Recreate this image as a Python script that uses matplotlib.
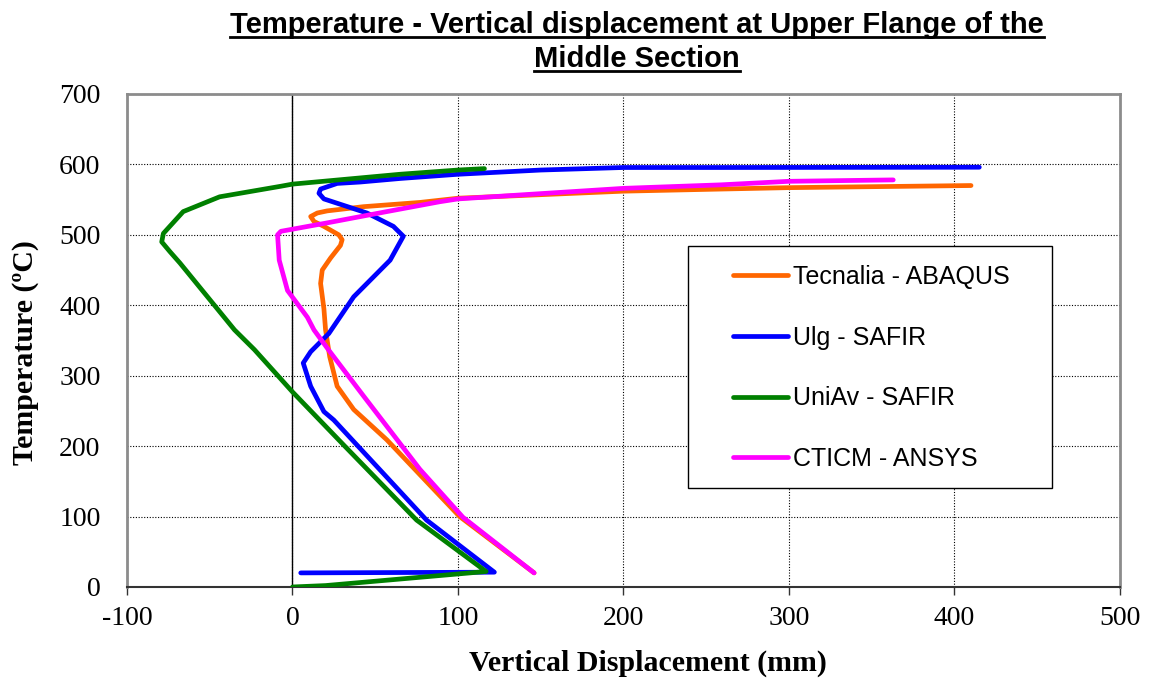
import matplotlib.pyplot as plt
from matplotlib.lines import Line2D
from matplotlib.patches import Rectangle

plt.rcParams['axes.unicode_minus'] = False

# Vertical displacement (mm) vs temperature (ºC) for each model
tecnalia_disp = [146, 101, 57, 37, 27, 22.5, 20, 19, 17, 18, 23, 29, 30, 28, 19, 13, 11, 15, 21, 43, 77, 100, 200, 259, 300, 410]
tecnalia_temp = [20, 100, 209, 252, 285, 327, 365, 395, 431, 450, 467, 485, 493, 500, 512, 519, 526, 531, 534, 540, 546, 552, 562, 565, 567, 570]

ulg_disp = [5, 122, 81, 25, 19, 11, 6.5, 11, 22, 37, 59, 67, 61, 45, 19, 16, 17, 27, 41, 65, 100, 150, 200, 259, 415]
ulg_temp = [20, 21, 95, 237, 249, 285, 318, 334, 360, 412, 464, 498, 512, 531, 551, 559, 565, 573, 575, 580, 586, 592, 595.6, 595.6, 596]

uniav_disp = [0, 20, 117, 75, 32, 0, -23, -35, -68, -74, -79, -78, -66, -44, -7, 0, 65, 100, 116]
uniav_temp = [0, 2, 22, 95, 199, 277, 337, 365, 460, 476, 490, 502, 533, 554, 569, 572, 586, 592, 594]

cticm_disp = [146, 103, 77, 43, 22, 13, 9, -3, -8, -9, -7, 21, 57, 89, 100, 200, 259, 300, 363]
cticm_temp = [20, 99, 167, 271, 336, 365, 383, 421, 464, 500, 505, 517, 533, 547, 551, 566, 571, 576, 578]

series = [
    ('Tecnalia - ABAQUS', tecnalia_disp, tecnalia_temp, '#FF6600'),
    ('Ulg - SAFIR', ulg_disp, ulg_temp, '#0000FF'),
    ('UniAv - SAFIR', uniav_disp, uniav_temp, '#008000'),
    ('CTICM - ANSYS', cticm_disp, cticm_temp, '#FF00FF'),
]

x_ticks = [-100, 0, 100, 200, 300, 400, 500]
y_ticks = [0, 100, 200, 300, 400, 500, 600, 700]

fig = plt.figure(figsize=(11.5, 6.8), dpi=100)
ax = fig.add_axes([0.1104, 0.1368, 0.8635, 0.725])

for label, d, t, c in series:
    ax.plot(d, t, color=c, lw=3.4, label=label, solid_capstyle='round',
            solid_joinstyle='round', zorder=3)

ax.set_xlim(-100, 500)
ax.set_ylim(0, 700)
ax.set_xticks(x_ticks)
ax.set_yticks(y_ticks)
ax.grid(True, color='black', linestyle=(0, (1, 1.5)), linewidth=0.8, zorder=1)
ax.axvline(0, color='black', lw=1, zorder=2)

serif = 'Liberation Serif'
ax.tick_params(axis='x', direction='out', length=6, width=1, pad=8,
               labelsize=20, color='#333333')
ax.tick_params(axis='y', length=0, pad=19, labelsize=20)
for lbl in ax.get_xticklabels() + ax.get_yticklabels():
    lbl.set_fontfamily(serif)

for side in ['left', 'right', 'top']:
    ax.spines[side].set_color('#8c8c8c')
    ax.spines[side].set_linewidth(2)
ax.spines['bottom'].set_color('#333333')
ax.spines['bottom'].set_linewidth(1.5)

ax.set_xlabel('Vertical Displacement (mm)', fontfamily=serif, fontweight='bold', fontsize=21.5)
ax.set_ylabel('Temperature (ºC)', fontfamily=serif, fontweight='bold', fontsize=21.5)
ax.xaxis.set_label_coords(0.525, -0.128)
ax.yaxis.set_label_coords(-0.089, 0.475)

# legend box
ax.add_patch(Rectangle((0.565, 0.201), 0.367, 0.491, transform=ax.transAxes,
                       facecolor='white', edgecolor='black', lw=1, zorder=5))
leg = ax.legend(loc='upper left', bbox_to_anchor=((733 - 127) / 993, (587 - 265) / 493),
                frameon=False, borderpad=0, borderaxespad=0, handlelength=2.2,
                handletextpad=0.2, labelspacing=1.47,
                prop={'family': 'Liberation Sans', 'size': 18})
leg.set_zorder(6)
for h in leg.get_lines():
    h.set_linewidth(3.4)
    h.set_solid_capstyle('round')

# two-line underlined title
title_font = dict(family='Liberation Sans', weight='bold', size=21)
t1 = fig.text(0.554, 1 - 33 / 680, 'Temperature - Vertical displacement at Upper Flange of the',
              ha='center', va='baseline', **title_font)
t2 = fig.text(0.554, 1 - 67 / 680, 'Middle Section', ha='center', va='baseline', **title_font)
fig.canvas.draw()
inv = fig.transFigure.inverted()
for t in (t1, t2):
    bb = t.get_window_extent().transformed(inv)
    _, y_base = t.get_position()
    y_line = y_base - 4 / 680
    fig.add_artist(Line2D([bb.x0, bb.x1], [y_line, y_line], transform=fig.transFigure,
                          color='black', lw=2))

fig.savefig('out.png', dpi=100)
